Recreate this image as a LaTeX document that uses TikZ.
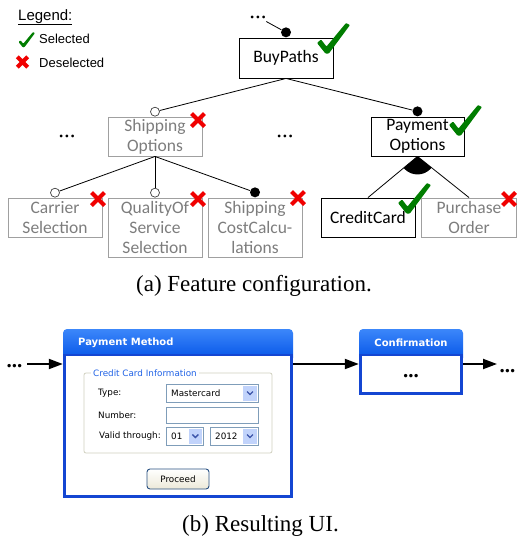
\documentclass[tikz,border=0pt]{standalone}
\usepackage{fontspec}
\setmainfont{Liberation Serif}
\newfontfamily\fcal{Carlito}
\newfontfamily\fsans{Liberation Sans}
\newfontfamily\fui{DejaVu Sans}
\usetikzlibrary{calc,arrows.meta}
\definecolor{chkgreen}{RGB}{0,125,0}
\definecolor{xred}{RGB}{240,0,0}
\definecolor{fgray}{RGB}{125,125,125}
\definecolor{bgray}{RGB}{160,160,160}
\definecolor{uiblue}{RGB}{0,80,230}
\definecolor{uiblueL}{RGB}{60,135,250}
\definecolor{uiborder}{RGB}{20,70,210}
\definecolor{grpcol}{RGB}{208,208,191}
\definecolor{grptxt}{RGB}{33,99,230}
\definecolor{fieldcol}{RGB}{127,157,185}
\definecolor{btncol}{RGB}{193,211,251}
\definecolor{chevcol}{RGB}{60,85,170}
\definecolor{prbord}{RGB}{40,80,130}
\definecolor{prfill}{RGB}{236,233,216}
\begin{document}
\begin{tikzpicture}[x=1pt,y=-1pt,
  feat/.style={draw, line width=0.9pt, inner sep=0pt, align=center,
    font={\fcal\fontsize{17.5}{20}\selectfont}},
  featoff/.style={feat, draw=bgray, text=fgray},
  opt/.style={circle, draw=black!75, fill=white, line width=0.7pt, inner sep=0pt, minimum size=9pt, anchor=south},
  mand/.style={circle, fill=black, inner sep=0pt, minimum size=10pt, anchor=south},
  conn/.style={line width=0.8pt},
  dotsA/.style={font={\fontsize{23}{23}\selectfont}, inner sep=3pt},
  dotsB/.style={font={\bfseries\fontsize{21}{21}\selectfont}, inner sep=0pt},
  legtxt/.style={font={\fsans\fontsize{13}{15}\selectfont}, anchor=base west, inner sep=0pt},
  capt/.style={font={\fontsize{23}{26}\selectfont}, anchor=base, inner sep=0pt},
  uitxt/.style={font={\fui\fontsize{8.8}{10}\selectfont}, inner sep=0pt},
  uititle/.style={font={\fui\bfseries\fontsize{10}{12}\selectfont}, text=white, inner sep=0pt},
  field/.style={draw=fieldcol, fill=white, line width=0.8pt},
  arr/.style={line width=2pt, -{Triangle[length=14pt,width=10pt]}},
  chk/.pic={\fill[chkgreen, rounded corners=0.8pt] (-10,-10) -- (-6,-13.5) -- (-0.5,-6.5) -- (19,-30) -- (23,-28) -- (1.8,0.6) -- (-1.5,0.6) -- cycle;},
  xmk/.pic={\draw[xred, line width=4.2pt] (-6.5,-6.5) -- (6.5,6.5) (-6.5,6.5) -- (6.5,-6.5);},
  chev/.pic={\draw[chevcol, line width=1.3pt] (-3,-1.5) -- (0,1.5) -- (3,-1.5);}
]
\useasboundingbox (0,0) rectangle (518,536);

% ---------- Legend ----------
\node[legtxt, font={\fsans\fontsize{15}{17}\selectfont}] (leg) at (18,20) {\underline{Legend:}};
\pic[scale=0.5] at (23.5,47) {chk};
\node[legtxt] (sel) at (39,43.5) {Selected};
\pic[scale=0.8] at (22.5,62) {xmk};
\node[legtxt] (desel) at (39,67.5) {Deselected};

% ---------- Feature tree ----------
\node[feat, minimum width=94pt, minimum height=40pt] (buy) at (286,58) {BuyPaths};
\node[featoff, minimum width=94pt, minimum height=39pt] (ship) at (155,136.5) {Shipping\\Options};
\node[feat, minimum width=93pt, minimum height=39pt] (pay) at (417.5,136.5) {Payment\\Options};
\node[featoff, minimum width=94pt, minimum height=39pt] (car) at (55,217.5) {Carrier\\Selection};
\node[featoff, minimum width=94pt, minimum height=59pt] (qos) at (155,227.5) {QualityOf\\Service\\Selection};
\node[featoff, minimum width=94pt, minimum height=59pt] (cost) at (255,227.5) {Shipping\\CostCalcu-\\lations};
\node[feat, minimum width=94pt, minimum height=39pt] (cc) at (368,217.5) {CreditCard};
\node[featoff, minimum width=95pt, minimum height=39pt] (po) at (469,217.5) {Purchase\\Order};

\node[mand] (buyc) at (buy.north) {};
\node[opt] (shipc) at (ship.north) {};
\node[mand] (payc) at (pay.north) {};
\node[opt] (carc) at (car.north) {};
\node[opt] (qosc) at (qos.north) {};
\node[mand] (costc) at (cost.north) {};

\node[dotsA, anchor=base] (dtop) at (258,18) {...};
\node[dotsA] (dleft) at (67,136) {...};
\node[dotsA] (dmid) at (285,136) {...};

\draw[conn] (dtop) -- (buyc);
\draw[conn] (buy.south) -- (shipc);
\draw[conn] (buy.south) -- (payc);
\draw[conn] (ship.south) -- (carc);
\draw[conn] (ship.south) -- (qosc);
\draw[conn] (ship.south) -- (costc);
\draw[conn] (pay.south) -- (cc.north);
\draw[conn] (pay.south) -- (po.north);
\begin{scope}
  \clip (pay.south) -- (cc.north) -- (po.north) -- cycle;
  \fill (pay.south) circle (18pt);
\end{scope}

\pic at (327,53) {chk};
\pic at (459,135) {chk};
\pic at (408,213) {chk};
\pic at (198,120) {xmk};
\pic at (98,199) {xmk};
\pic at (198,199) {xmk};
\pic at (298,198) {xmk};
\pic at (509,199) {xmk};

\node[capt] (capa) at (254,291.5) {(a) Feature configuration.};

% ---------- Resulting UI ----------
% window 1
\node[minimum width=230pt, minimum height=169pt, inner sep=0pt] (win1) at (178,413.5) {};
\shade[top color=uiblueL, bottom color=uiblue, rounded corners=4pt] (63,329) rectangle (293,362);
\fill[uiborder] (63,354) rectangle (293,498);
\fill[white] (66,356) rectangle (290,495);
\node[uititle, anchor=west] (t1) at (78,343) {Payment Method};

\draw[grpcol, line width=0.8pt, rounded corners=2pt] (84,373) rectangle (272,453);
\node[uitxt, anchor=west, fill=white, inner xsep=2.5pt, text=grptxt] (grp) at (90.5,373) {Credit Card Information};

\node[uitxt, anchor=west] (ltype) at (98,393) {Type:};
\node[uitxt, anchor=west] (lnum) at (98,415) {Number:};
\node[uitxt, anchor=west] (lvalid) at (99,436) {Valid through:};

\draw[field] (166,384) rectangle (258,402);
\fill[btncol] (243,385.5) rectangle (257,400.5);
\pic at (250,393) {chev};
\node[uitxt, anchor=west] (vtype) at (171,393) {Mastercard};

\draw[field] (166,407) rectangle (258,423);

\draw[field] (166,427) rectangle (203,445);
\fill[btncol] (189,428.5) rectangle (201.7,443.5);
\pic at (195.4,436) {chev};
\node[uitxt, anchor=west] (vmon) at (171,436) {01};

\draw[field] (210,427) rectangle (258,445);
\fill[btncol] (243,428.5) rectangle (256.7,443.5);
\pic at (250,436) {chev};
\node[uitxt, anchor=west] (vyear) at (215,436) {2012};

\shade[top color=white, bottom color=prfill, draw=prbord, line width=0.9pt, rounded corners=3pt] (147,469) rectangle (209,489);
\node[uitxt] (proc) at (178,479) {Proceed};

% window 2
\node[minimum width=104pt, minimum height=66pt, inner sep=0pt] (win2) at (411,362) {};
\shade[top color=uiblueL, bottom color=uiblue, rounded corners=4pt] (359,329) rectangle (463,362);
\fill[uiborder] (359,354) rectangle (463,395);
\fill[white] (362,356) rectangle (460,392);
\node[uititle] (t2) at (411,343) {Confirmation};
\node[dotsB] (dwin2) at (411,376) {...};

% arrows
\coordinate (aL) at (27,364);
\coordinate (aR) at (497,364);
\node[dotsB] (dL) at (14.5,366) {...};
\node[dotsB] (dR) at (507.5,371) {...};
\draw[arr] (aL) -- (aL -| win1.west);
\draw[arr] (win1.east |- aL) -- (aL -| win2.west);
\draw[arr] (win2.east |- aL) -- (aR);

\node[capt] (capb) at (260.5,531) {(b) Resulting UI.};
\end{tikzpicture}
\end{document}
